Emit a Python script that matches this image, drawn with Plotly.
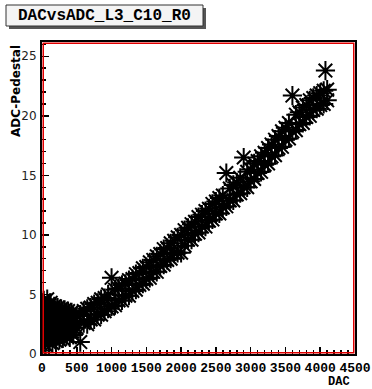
import plotly.graph_objects as go

# Low-DAC cluster: DAC values and four ADC-Pedestal readings each
dac_low = [0, 25, 50, 75, 100, 125, 150, 175, 200, 225, 250, 275, 300, 325, 350, 375, 400, 425, 450]
adc_low_1 = [0.3, 1.2, 0.8, 1.5, 1.0, 1.4, 0.9, 1.6, 1.1, 1.5, 1.2, 1.7, 1.3, 1.8, 1.5, 1.9, 1.4, 1.8, 1.6]
adc_low_2 = [1.8, 2.5, 2.0, 2.8, 2.2, 2.6, 2.0, 2.4, 2.1, 2.6, 2.2, 2.5, 2.3, 2.6, 2.2, 2.5, 2.3, 2.5, 2.2]
adc_low_3 = [3.0, 3.6, 3.3, 3.9, 3.1, 3.5, 3.0, 3.3, 2.9, 3.4, 3.0, 3.2, 2.9, 3.3, 2.8, 3.1, 2.7, 3.0, 2.8]
adc_low_4 = [4.2, 4.5, 4.0, 4.6, 4.1, 4.3, 3.8, 4.0, 3.7, 3.9, 3.6, 3.8, 3.5, 3.7, 3.4, 3.6, 3.3, 3.5, 3.2]

# Rising band: DAC values and two ADC-Pedestal readings each
dac_band = [500, 550, 600, 650, 700, 750, 800, 850, 900, 950,
            1000, 1050, 1100, 1150, 1200, 1250, 1300, 1350, 1400, 1450,
            1500, 1550, 1600, 1650, 1700, 1750, 1800, 1850, 1900, 1950,
            2000, 2050, 2100, 2150, 2200, 2250, 2300, 2350, 2400, 2450,
            2500, 2550, 2600, 2650, 2700, 2750, 2800, 2850, 2900, 2950,
            3000, 3050, 3100, 3150, 3200, 3250, 3300, 3350, 3400, 3450,
            3500, 3550, 3600, 3650, 3700, 3750, 3800, 3850, 3900, 3950,
            4000, 4050, 4100]
adc_band_a = [2.2, 1.0, 2.6, 2.5, 2.9, 2.9, 3.3, 3.3, 3.6, 3.8,
              4.0, 4.1, 4.5, 4.5, 4.9, 4.9, 5.3, 5.4, 5.8, 5.9,
              6.3, 6.4, 6.9, 6.9, 7.4, 7.5, 7.9, 8.0, 8.5, 8.5,
              8.5, 9.1, 9.6, 9.6, 10.1, 10.2, 10.7, 10.7, 11.2, 11.3,
              11.8, 11.8, 12.3, 12.4, 12.9, 12.9, 13.4, 13.5, 14.0, 14.0,
              14.5, 14.7, 15.2, 15.3, 15.9, 16.0, 16.6, 16.7, 17.3, 17.4,
              18.0, 18.1, 18.7, 18.8, 19.3, 19.4, 19.9, 20.0, 20.5, 20.6,
              20.9, 21.0, 21.3]
adc_band_b = [3.2, 3.3, 3.6, 3.8, 3.9, 4.2, 4.3, 4.6, 4.7, 5.0,
              6.4, 5.4, 5.5, 5.8, 5.9, 6.2, 6.3, 6.7, 6.8, 7.2,
              7.3, 7.7, 7.9, 8.2, 8.4, 8.8, 8.9, 9.3, 9.5, 9.8,
              10.0, 10.4, 10.6, 10.9, 11.1, 11.5, 11.7, 12.0, 12.2, 12.6,
              12.8, 13.1, 13.3, 15.2, 13.9, 14.2, 14.4, 14.8, 16.5, 15.3,
              15.5, 16.0, 16.2, 16.6, 16.9, 17.3, 17.6, 18.0, 18.3, 18.7,
              19.0, 19.4, 21.7, 20.1, 20.3, 20.7, 20.9, 21.3, 21.5, 21.7,
              21.9, 22.1, 22.2]

# Isolated high point at the end
dac_extra = [4075]
adc_extra = [23.8]

xs = (dac_low * 4) + (dac_band * 2) + dac_extra
ys = adc_low_1 + adc_low_2 + adc_low_3 + adc_low_4 + adc_band_a + adc_band_b + adc_extra

title_text = "DACvsADC_L3_C10_R0"
x_title = "DAC"
y_title = "ADC-Pedestal"
x_ticks = [0, 500, 1000, 1500, 2000, 2500, 3000, 3500, 4000, 4500]
y_ticks = [0, 5, 10, 15, 20, 25]

fig = go.Figure()
fig.add_trace(go.Scatter(
    x=xs, y=ys, mode="markers",
    marker=dict(symbol="asterisk-open", size=16, color="black",
                line=dict(color="black", width=2)),
    showlegend=False, hoverinfo="skip",
))

L, R, T, B = 42, 17, 42, 35
W, H = 372, 389
pw, ph = W - L - R, H - T - B

def px(xp):
    return (xp - L) / pw

def py(yp):
    return (H - B - yp) / ph

fig.update_layout(
    width=W, height=H,
    margin=dict(l=L, r=R, t=T, b=B, autoexpand=False),
    paper_bgcolor="white", plot_bgcolor="white",
    xaxis=dict(
        range=[0, 4500], tickvals=x_ticks, ticktext=[str(v) for v in x_ticks],
        ticks="inside", ticklen=7, tickwidth=1.5, tickcolor="black",
        minor=dict(dtick=100, ticks="inside", ticklen=4, tickwidth=1.5, tickcolor="black"),
        showgrid=False, zeroline=False, automargin=False,
        showline=True, linecolor="black", linewidth=2, mirror=True,
        tickfont=dict(family="Liberation Mono", size=13, color="black", weight="bold"),
        ticklabelstandoff=0,
    ),
    yaxis=dict(
        range=[0, 26.2], tickvals=y_ticks, ticktext=[str(v) for v in y_ticks],
        ticks="inside", ticklen=7, tickwidth=1.5, tickcolor="black",
        minor=dict(dtick=1, ticks="inside", ticklen=4, tickwidth=1.5, tickcolor="black"),
        showgrid=False, zeroline=False, automargin=False,
        showline=True, linecolor="black", linewidth=2, mirror=True,
        tickfont=dict(family="DejaVu Sans", size=12, color="#222"),
        ticklabelstandoff=1,
    ),
    shapes=[
        dict(type="rect", xref="paper", yref="paper", x0=0.004, x1=0.996, y0=0.004, y1=0.996,
             line=dict(color="#e00000", width=1.5), layer="above"),
        dict(type="rect", xref="paper", yref="paper", x0=px(9), x1=px(206), y0=py(29), y1=py(8),
             line=dict(width=0), fillcolor="#555555"),
        dict(type="rect", xref="paper", yref="paper", x0=px(6), x1=px(203), y0=py(26), y1=py(5),
             line=dict(color="#333333", width=1), fillcolor="#f4f4f4"),
    ],
    annotations=[
        dict(text=title_text, xref="paper", yref="paper", x=px(104.5), y=py(15.5),
             xanchor="center", yanchor="middle", showarrow=False,
             font=dict(family="Liberation Mono", size=16, color="black", weight="bold")),
        dict(text=x_title, xref="paper", yref="paper", x=px(352), y=py(382),
             xanchor="right", yanchor="middle", showarrow=False,
             font=dict(family="Liberation Mono", size=12, color="black", weight="bold")),
        dict(text=y_title, xref="paper", yref="paper", x=px(16), y=py(43),
             xanchor="center", yanchor="top", textangle=-90, showarrow=False,
             font=dict(family="DejaVu Sans", size=12, color="black", weight="bold")),
    ],
)

fig.write_html(
    "out.html",
    config={"displayModeBar": False, "staticPlot": True},
    post_script="document.body.style.margin='0';document.body.style.padding='0';document.body.style.overflow='hidden';",
)
